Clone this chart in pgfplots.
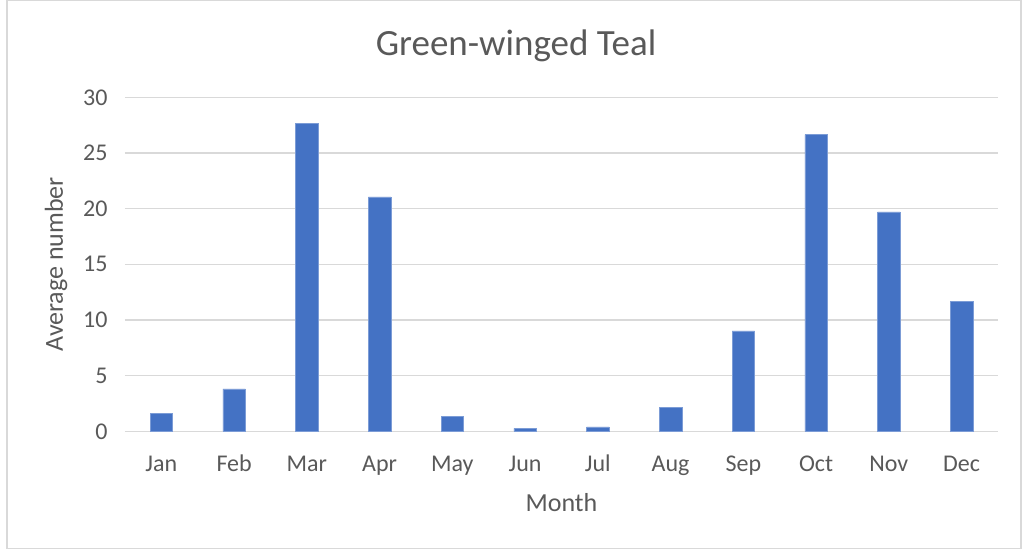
\documentclass[border=0pt]{standalone}
\usepackage{pgfplots}
\pgfplotsset{compat=1.18}
\usepackage{fontspec}
\setmainfont{Carlito}
\definecolor{barblue}{HTML}{4472C4}
\definecolor{gridgray}{HTML}{D9D9D9}
\definecolor{txt}{HTML}{595959}
\begin{document}
\begin{tikzpicture}[x=1pt,y=1pt]
\path[use as bounding box] (0,0) rectangle (1029,550);
\draw[gridgray, line width=1.2pt] (7,1.5) rectangle (1021,550);
\begin{axis}[
  at={(125pt,118.7pt)}, anchor=south west,
  scale only axis, width=873pt, height=334pt,
  xmin=-0.5, xmax=11.5, ymin=0, ymax=30,
  ytick={0,5,...,30},
  xtick={0,...,11},
  xticklabels={Jan,Feb,Mar,Apr,May,Jun,Jul,Aug,Sep,Oct,Nov,Dec},
  major tick length=0pt,
  axis line style={draw=none},
  ymajorgrids, grid style={gridgray, line width=1.2pt},
  tick label style={font=\fontsize{24}{28}\selectfont, text=txt},
  /pgf/number format/assume math mode=true,
  yticklabel style={anchor=east, xshift=-14pt},
  xticklabel style={anchor=base, yshift=-40pt},
  ylabel={Average number},
  xlabel={Month},
  label style={font=\fontsize{26}{30}\selectfont, text=txt},
  ylabel style={at={(axis description cs:0,0.5)}, anchor=base, yshift=62pt},
  xlabel style={at={(axis description cs:0.5,0)}, anchor=base, yshift=-80pt},
  title={Green-winged Teal},
  title style={font=\fontsize{37}{42}\selectfont, text=txt, at={(axis description cs:0.4479,1.1057)}, anchor=base},
  clip=false,
]
\addplot[ybar, bar width=22.7pt, fill=barblue, draw=barblue!70!white, line width=0.5pt] coordinates {
(0,1.62) (1,3.8) (2,27.67) (3,21.05) (4,1.37) (5,0.27)
(6,0.39) (7,2.12) (8,9.01) (9,26.65) (10,19.7) (11,11.7)};
\end{axis}
\end{tikzpicture}
\end{document}
